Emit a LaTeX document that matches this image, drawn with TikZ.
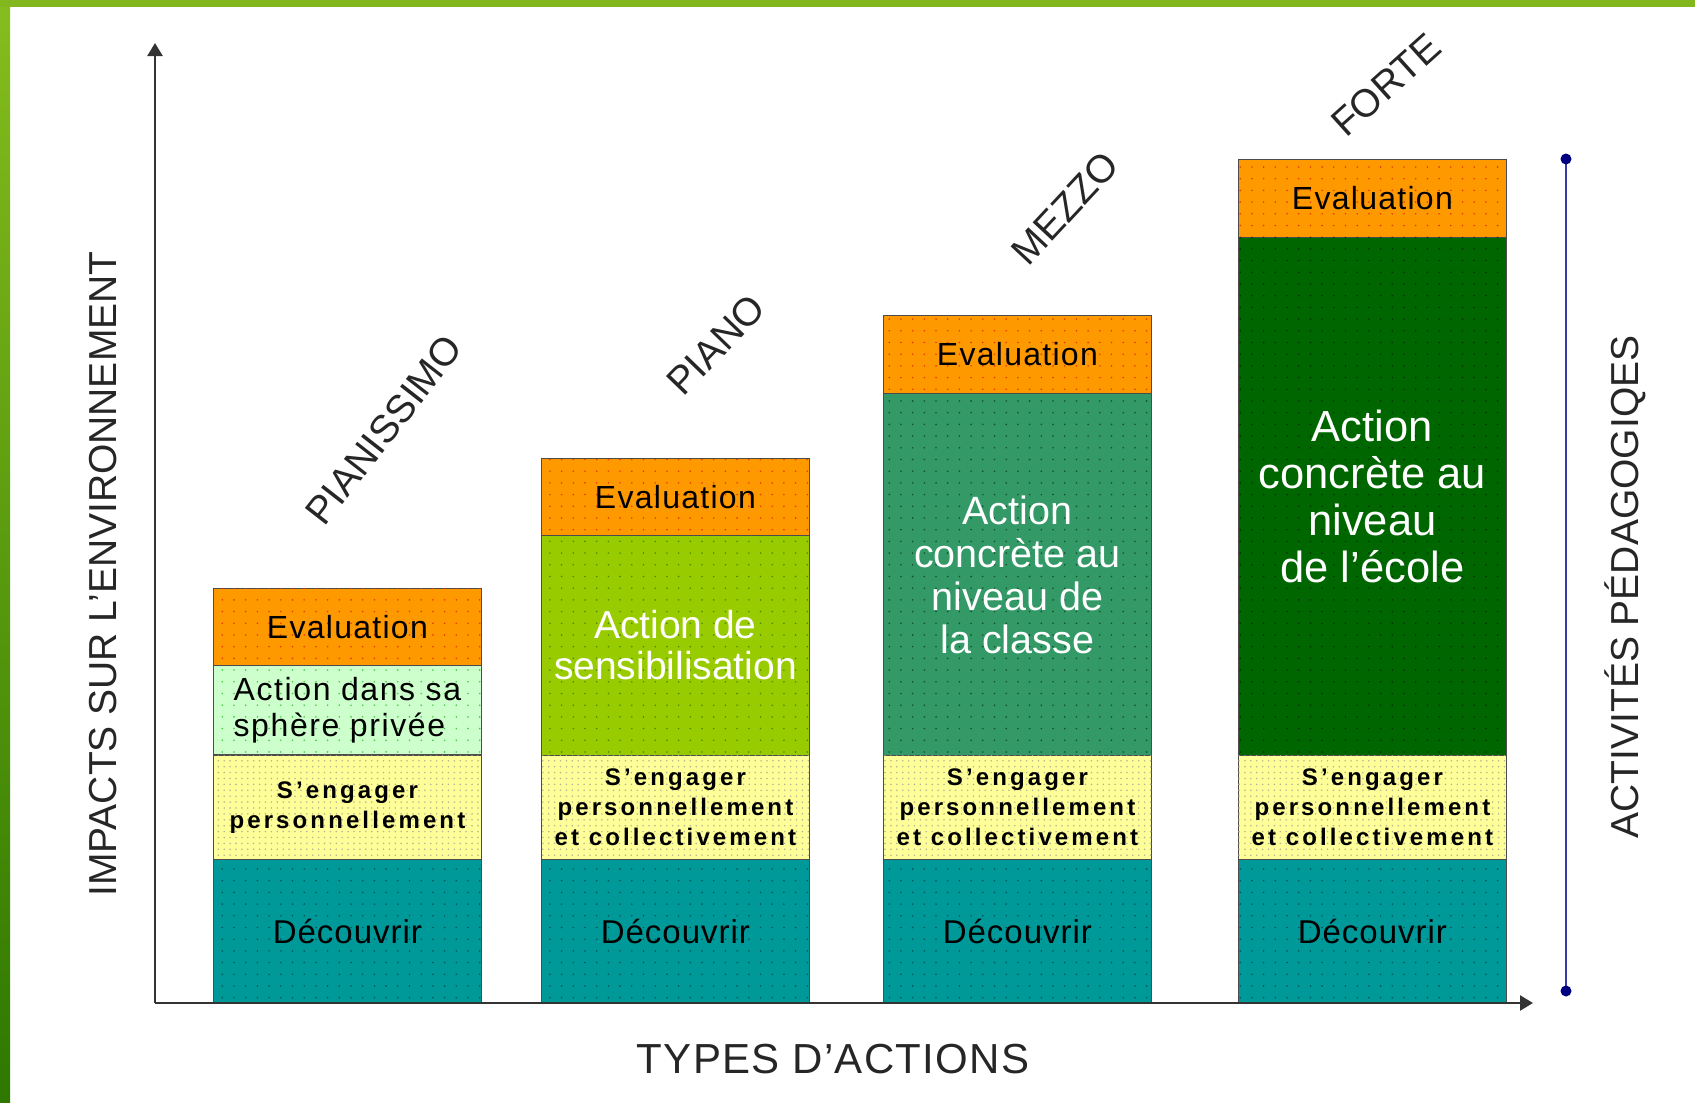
\documentclass[tikz,border=0pt]{standalone}
\usepackage{fontspec}
\setmainfont{Liberation Sans}
\usetikzlibrary{arrows.meta,patterns.meta}
\definecolor{evalc}{HTML}{FF9900}
\definecolor{evaldot}{HTML}{E83A00}
\definecolor{mintc}{HTML}{CCFFCC}
\definecolor{mintdot}{HTML}{44CC44}
\definecolor{yellc}{HTML}{FFFF99}
\definecolor{yelldot}{HTML}{B8B890}
\definecolor{tealc}{HTML}{009999}
\definecolor{tealdot}{HTML}{005555}
\definecolor{limec}{HTML}{99CC00}
\definecolor{limedot}{HTML}{4E8A00}
\definecolor{seac}{HTML}{339966}
\definecolor{seadot}{HTML}{15502C}
\definecolor{darkgc}{HTML}{006600}
\definecolor{darkgdot}{HTML}{003300}
\definecolor{bordtop}{HTML}{86BD1E}
\definecolor{bordbot}{HTML}{2E7800}
\definecolor{axisc}{HTML}{333333}
\definecolor{bluel}{HTML}{3838A8}
\definecolor{navyd}{HTML}{000080}
\newcommand\myfs[2]{\fontsize{#1}{#2}\selectfont}
\tikzset{
  seg/.style 2 args={draw=black!70, line width=0.8pt, anchor=north west,
    minimum width=268pt, minimum height=#1pt, inner sep=0pt, fill=#2},
  dots/.style 2 args={postaction={pattern={Dots[radius=0.9pt,distance=#2pt]}, pattern color=#1}},
  evaltxt/.style={font=\myfs{32}{36}\addfontfeature{LetterSpace=4}, text=black},
  engtxt/.style={font=\myfs{24}{30}\bfseries\addfontfeature{LetterSpace=13}, align=center, text=black},
  dectxt/.style={font=\myfs{33}{36}\addfontfeature{LetterSpace=3}, text=black},
  axislbl/.style={font=\myfs{39}{44}, text=black!85},
  axisline/.style={draw=axisc, line width=2.4pt, -{Triangle[length=13pt,width=15pt]}},
}
\begin{document}
\begin{tikzpicture}[x=1pt,y=-1pt]
\useasboundingbox (0,0) rectangle (1695,1103);
\fill[white] (0,0) rectangle (1695,1103);
% frame
\shade[top color=bordtop, bottom color=bordbot] (0,0) rectangle (10,1103);
\fill[bordtop!97!black] (0,0) rectangle (1695,7);

% bar 1
\node[seg={77}{evalc}, dots={evaldot}{11.7}, evaltxt] (e1) at (213,588) {Evaluation};
\node[seg={89}{mintc}, dots={mintdot}{11.7}, font=\myfs{32}{36}\addfontfeature{LetterSpace=5}, align=left, text=black] (a1) at (213,665) {Action dans sa\\sphère privée};
\node[seg={104}{yellc}, dots={yelldot}{5.9}, engtxt] (s1) at (213,755) {S’engager\\personnellement};
\node[seg={144}{tealc}, dots={tealdot}{11.7}, dectxt] (d1) at (213,859) {Découvrir};

% bar 2
\node[seg={77}{evalc}, dots={evaldot}{11.7}, evaltxt] (e2) at (541,458) {Evaluation};
\node[seg={220}{limec}, dots={limedot}{11.7}, font=\myfs{39}{41}, align=center, text=white] (a2) at (541,535) {Action de\\sensibilisation};
\node[seg={104}{yellc}, dots={yelldot}{5.9}, engtxt] (s2) at (541,755) {S’engager\\personnellement\\et collectivement};
\node[seg={144}{tealc}, dots={tealdot}{11.7}, dectxt] (d2) at (541,859) {Découvrir};

% bar 3
\node[seg={78}{evalc}, dots={evaldot}{11.7}, evaltxt] (e3) at (883,315) {Evaluation};
\node[seg={362}{seac}, dots={seadot}{11.7}, font=\myfs{39.5}{43}, align=center, text=white] (a3) at (883,393) {Action\\concrète au\\niveau de\\la classe};
\node[seg={104}{yellc}, dots={yelldot}{5.9}, engtxt] (s3) at (883,755) {S’engager\\personnellement\\et collectivement};
\node[seg={144}{tealc}, dots={tealdot}{11.7}, dectxt] (d3) at (883,859) {Découvrir};

% bar 4
\node[seg={78}{evalc}, dots={evaldot}{11.7}, evaltxt] (e4) at (1238,159) {Evaluation};
\node[seg={519}{darkgc}, dots={darkgdot}{11.7}, font=\myfs{43.5}{47}, align=center, text=white] (a4) at (1238,237) {Action\\concrète au\\niveau\\de l’école};
\node[seg={104}{yellc}, dots={yelldot}{5.9}, engtxt] (s4) at (1238,755) {S’engager\\personnellement\\et collectivement};
\node[seg={144}{tealc}, dots={tealdot}{11.7}, dectxt] (d4) at (1238,859) {Découvrir};

% axes
\coordinate (O) at (155,1003);
\coordinate (ytop) at (155,43);
\coordinate (xend) at (1533,1003);
\draw[axisline] (O) -- (ytop);
\draw[axisline] (O) -- (xend);

% right bracket
\coordinate (bt) at (1566,159);
\coordinate (bb) at (1566,991);
\draw[bluel, line width=2.2pt] (bt) -- (bb);
\fill[navyd] (bt) circle (5.5pt);
\fill[navyd] (bb) circle (5.5pt);

% labels
\node[axislbl, rotate=90] (ly) at (103,574) {IMPACTS SUR L’ENVIRONNEMENT};
\node[axislbl, font=\myfs{42}{46}\addfontfeature{LetterSpace=3}] (lx) at (833,1059) {TYPES D’ACTIONS};
\node[axislbl, rotate=90] (lr) at (1625,587) {ACTIVITÉS PÉDAGOGIQES};

\node[axislbl, rotate=52] (t1) at (384,430) {PIANISSIMO};
\node[axislbl, rotate=46] (t2) at (716,345) {PIANO};
\node[axislbl, rotate=47] (t3) at (1065,208) {MEZZO};
\node[axislbl, rotate=42] (t4) at (1386,85) {FORTE};
\end{tikzpicture}
\end{document}
